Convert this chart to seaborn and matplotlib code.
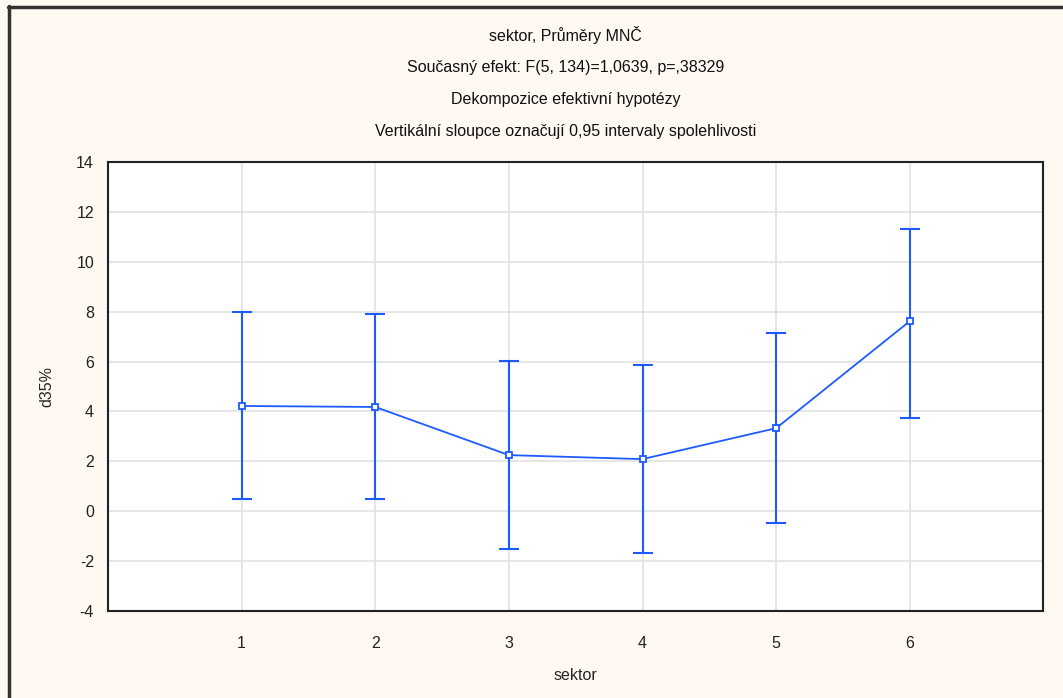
import numpy as np
import pandas as pd
import matplotlib
matplotlib.use("Agg")
import matplotlib.pyplot as plt
import seaborn as sns

# data
sektor = [1, 2, 3, 4, 5, 6]
means = [4.22, 4.18, 2.25, 2.09, 3.33, 7.62]
upper = [7.97, 7.90, 6.02, 5.86, 7.14, 11.33]
lower = [0.50, 0.50, -1.52, -1.68, -0.47, 3.74]

titles = [
    "sektor, Průměry MNČ",
    "Současný efekt: F(5, 134)=1,0639, p=,38329",
    "Dekompozice efektivní hypotézy",
    "Vertikální sloupce označují 0,95 intervaly spolehlivosti",
]

sns.set_style("white")
plt.rcParams['font.family'] = ['Liberation Sans', 'DejaVu Sans']
plt.rcParams['axes.unicode_minus'] = False

blue = "#1E5BFF"
bg = "#FFF9F2"

df = pd.DataFrame({"sektor": sektor, "mean": means, "upper": upper, "lower": lower})

fig = plt.figure(figsize=(10.63, 6.98), dpi=100, facecolor=bg)
ax = fig.add_axes([0.1016, 0.1246, 0.880, 0.6433])
ax.set_facecolor("white")

yerr = np.array([df["mean"] - df["lower"], df["upper"] - df["mean"]])
ax.errorbar(df["sektor"], df["mean"], yerr=yerr, fmt="none", ecolor=blue,
            elinewidth=1.5, capsize=7, capthick=1.5, zorder=3)
sns.lineplot(data=df, x="sektor", y="mean", ax=ax, color=blue, linewidth=1.3,
             marker="s", markersize=4.5, markerfacecolor="white",
             markeredgecolor=blue, markeredgewidth=1.3, zorder=4)

ax.set_xlim(0, 7)
ax.set_ylim(-4, 14)
ax.set_xticks(sektor)
ax.set_yticks(np.arange(-4, 15, 2))
ax.grid(True, color="#e2e2e2", linewidth=1.2)
ax.set_axisbelow(True)
for s in ax.spines.values():
    s.set_color("#222222")
    s.set_linewidth(1.5)
ax.tick_params(direction="in", length=4, width=1, colors="#222222",
               labelsize=11.5, pad=18)
ax.tick_params(axis="y", pad=10)
ax.set_xlabel("sektor", fontsize=11.5, labelpad=12)
ax.set_ylabel("d35%", fontsize=11.5, labelpad=16)

ys = [0.950, 0.904, 0.858, 0.812]
for t, y in zip(titles, ys):
    fig.text(0.532, y, t, ha="center", va="center", fontsize=11.5, color="#111111")

# outer frame lines (left and top visible)
fig.add_artist(plt.Line2D([0.0085, 0.0085], [0.0, 0.991], color="#333333",
                          linewidth=2.5, transform=fig.transFigure))
fig.add_artist(plt.Line2D([0.0075, 1.0], [0.990, 0.990], color="#333333",
                          linewidth=2.5, transform=fig.transFigure))

fig.savefig("out.png", dpi=100, facecolor=bg)
